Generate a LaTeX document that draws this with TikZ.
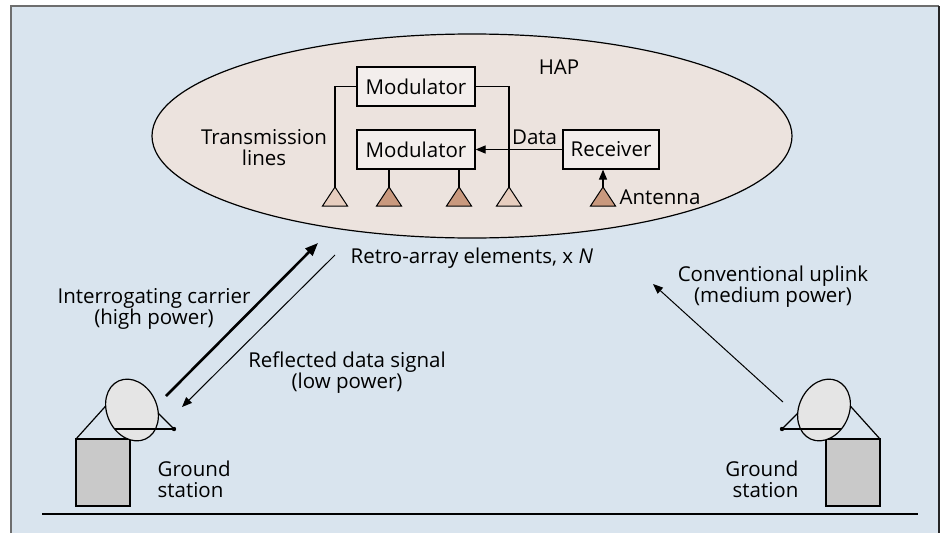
\documentclass[tikz,border=0pt]{standalone}
\usepackage{fontspec}
\setmainfont{Open Sans}
\usetikzlibrary{arrows.meta}
\definecolor{skyblue}{RGB}{217,228,238}
\definecolor{hapfill}{RGB}{236,227,222}
\definecolor{boxfill}{RGB}{243,238,236}
\definecolor{elemlight}{RGB}{231,206,191}
\definecolor{elemdark}{RGB}{201,153,126}
\definecolor{framegray}{RGB}{110,110,110}
\begin{document}
\begin{tikzpicture}[x=1pt, y=-1pt, line width=1.2pt,
    font=\fontsize{20.5}{21}\selectfont,
    block/.style={draw, fill=boxfill, minimum height=39pt, inner sep=0pt},
    station/.style={draw, fill=black!21, minimum width=54pt, minimum height=67pt, inner sep=0pt},
    label/.style={align=center, inner sep=0pt},
    smalltip/.style={-{Triangle[length=10pt, width=8pt]}},
    bigtip/.style={-{Triangle[length=13pt, width=10pt]}}]
  \useasboundingbox (0,0) rectangle (942,533);
  \fill[skyblue] (11,6) rectangle (939,533);
  \draw[framegray, line width=1.5pt] (11,533) -- (11,6) -- (939,6);
  \draw[black!85, line width=1.5pt] (939,6) -- (939,533);

  % the platform
  \draw[fill=hapfill] (472,136) ellipse [x radius=320, y radius=102];
  \node[inner sep=0pt] (hap) at (559,67) {HAP};
  \node[block, minimum width=118pt] (mod1) at (416,86.5) {Modulator};
  \node[block, minimum width=118pt] (mod2) at (416,149.5) {Modulator};
  \node[block, minimum width=96pt] (rx) at (611,149.5) {Receiver};
  \foreach \n/\x/\c in {1/335/elemlight, 2/389/elemdark, 3/459/elemdark, 4/509/elemlight, 5/603/elemdark} {
    \coordinate (el\n) at (\x,187);
    \draw[fill=\c, line width=1pt] (el\n) -- ++(-12.5,19) -- ++(25,0) -- cycle;
  }
  \draw (mod1.west) -| (el1);
  \draw (mod1.east) -| (el4);
  \draw (mod2.south -| el2) -- (el2);
  \draw (mod2.south -| el3) -- (el3);
  \draw[smalltip] (rx.west) -- (mod2.east) node[pos=0.32, above, inner sep=4pt] {Data};
  \draw[smalltip] (el5) -- (el5 |- rx.south);
  \node[anchor=west, inner sep=0pt] (ant) at (619,197) {Antenna};
  \node[label] (tl) at (264,148) {Transmission\\lines};
  \node[anchor=west, inner sep=0pt] (retro) at (350,258) {Retro-array elements, x \textit{N}};

  % ground stations
  \foreach \s/\bx/\cx/\ux/\dx/\vx/\fx/\hx/\ang in {1/103/76/112/132/148/174/115/25, 2/853/880/844/824/808/782/841/-25} {
    \node[station] (gs\s) at (\bx,472.5) {};
    \coordinate (feed\s) at (\fx,429);
    \draw (\cx,439) -- (\ux,399);
    \draw (feed\s) -- (\vx,403);
    \draw[fill=black!10, rotate around={\ang:(\dx,410)}] (\dx,410) ellipse [x radius=25, y radius=32];
    \draw (\hx,429) -- (feed\s);
    \fill (feed\s) circle [radius=2.2];
  }
  \node[align=left, anchor=west, inner sep=0pt] (gl1) at (157,479.5) {Ground\\station};
  \node[align=right, anchor=east, inner sep=0pt] (gl2) at (799,479.5) {Ground\\station};
  \draw (42,514) -- (918,514);

  % links
  \coordinate (tx1) at (166,396);
  \coordinate (tx2) at (318,243);
  \coordinate (rf1) at (335,255);
  \coordinate (rf2) at (182,407);
  \coordinate (ul1) at (783,402);
  \coordinate (ul2) at (653,284);
  \draw[bigtip, line width=2.6pt] (tx1) -- (tx2);
  \draw[smalltip, line width=1pt] (rf1) -- (rf2);
  \draw[smalltip, line width=1pt] (ul1) -- (ul2);
  \node[label] (carrier) at (154,309) {Interrogating carrier\\(high power)};
  \node[label] (refl) at (347,373) {Reflected data signal\\(low power)};
  \node[label] (uplink) at (773,287) {Conventional uplink\\(medium power)};
\end{tikzpicture}
\end{document}
